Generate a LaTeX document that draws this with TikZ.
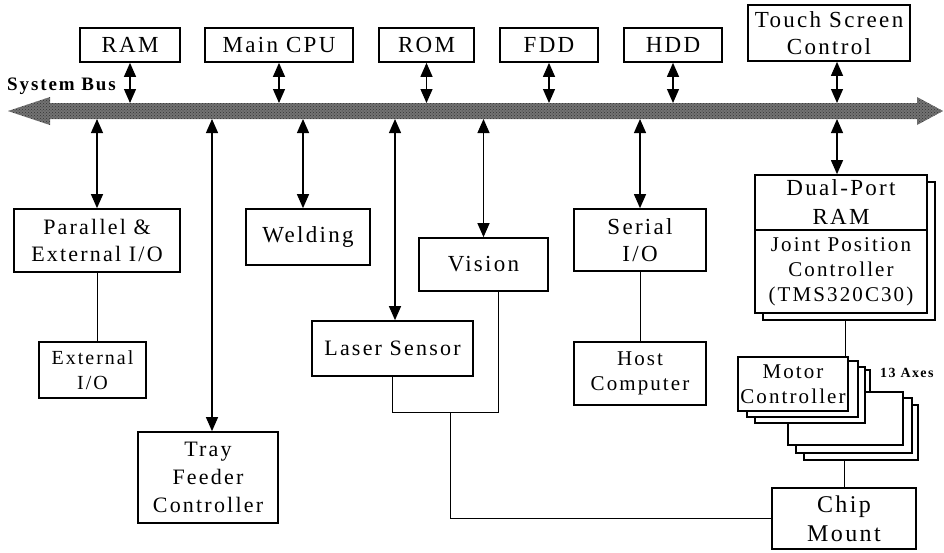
\documentclass[tikz,border=0pt]{standalone}
\usepackage{fontspec}
\setmainfont{Liberation Serif}[LetterSpace=10]
\usetikzlibrary{arrows.meta,patterns}
\begin{document}
\begin{tikzpicture}[x=1pt,y=-1pt,
 box/.style={draw, line width=1.7pt, fill=white, inner sep=0pt, align=center, font=\fontsize{23}{27}\selectfont},
 mid/.style={font=\fontsize{22}{27}\selectfont},
 sml/.style={font=\fontsize{21}{25}\selectfont},
 dbl/.style={line width=1.2pt, {Triangle[length=14pt,width=12pt]}-{Triangle[length=14pt,width=12pt]}},
 conn/.style={line width=1pt},
 lbl/.style={anchor=base west, inner sep=0pt},
]
\useasboundingbox (0,0) rectangle (944,552);

% system bus
\path[fill=black!55] (8,111) -- (50,97) -- (50,103) -- (917,103) -- (917,97) -- (943,111) -- (917,125) -- (917,119) -- (50,119) -- (50,125) -- cycle;
\path[pattern=crosshatch dots, pattern color=black!80] (8,111) -- (50,97) -- (50,103) -- (917,103) -- (917,97) -- (943,111) -- (917,125) -- (917,119) -- (50,119) -- (50,125) -- cycle;
\coordinate (bt) at (0,103);
\coordinate (bb) at (0,119);
\node[lbl, font=\fontsize{19}{22}\selectfont\bfseries] (sb) at (7,90) {System Bus};

% top row
\node[box, minimum width=100pt, minimum height=34pt] (ram) at (130,45) {RAM};
\node[box, minimum width=148pt, minimum height=34pt] (cpu) at (279,45) {Main CPU};
\node[box, minimum width=95pt, minimum height=34pt] (rom) at (426.5,45) {ROM};
\node[box, minimum width=98pt, minimum height=34pt] (fdd) at (549,45) {FDD};
\node[box, minimum width=98pt, minimum height=34pt] (hdd) at (673,45) {HDD};
\node[box, minimum width=162pt, minimum height=56pt] (touch) at (829,33) {Touch Screen\\Control};

% lower boxes
\node[box, mid, minimum width=166pt, minimum height=63pt] (par) at (97,240.5) {Parallel \&\\External I/O};
\node[box, font=\fontsize{20}{25}\selectfont, minimum width=107pt, minimum height=56pt] (extio) at (92.5,370) {External\\I/O};
\node[box, font=\fontsize{22}{28}\selectfont, minimum width=140pt, minimum height=91pt] (tray) at (208,477.5) {Tray\\Feeder\\Controller};
\node[box, minimum width=124pt, minimum height=56pt] (weld) at (308,237) {Welding};
\node[box, mid, minimum width=161pt, minimum height=55pt] (laser) at (392.5,348.5) {Laser Sensor};
\node[box, minimum width=129pt, minimum height=53pt] (vision) at (483.5,264.5) {Vision};
\node[box, minimum width=132pt, minimum height=62pt] (serial) at (640,240) {Serial\\I/O};
\node[box, sml, minimum width=132pt, minimum height=63pt] (host) at (640,373.5) {Host\\Computer};

% dual port / joint controller
\node[box, minimum width=172pt, minimum height=138pt] (jsh) at (849,251) {};
\node[box, font=\fontsize{23}{29}\selectfont, minimum width=172pt, minimum height=55pt] (dp) at (841,202.5) {Dual-Port\\RAM};
\node[box, sml, minimum width=172pt, minimum height=83pt] (jpc) at (841,271.5) {Joint Position\\Controller\\(TMS320C30)};

% motor controller stack
\node[box, minimum width=114pt, minimum height=55pt] (b3) at (861,432.5) {};
\node[box, minimum width=116pt, minimum height=55pt] (b2) at (854,425.5) {};
\node[box, minimum width=115pt, minimum height=53pt] (b1) at (845.5,418.5) {};
\node[box, minimum width=108pt, minimum height=22pt] (c3) at (816,381) {};
\node[box, minimum width=110pt, minimum height=56pt] (c2) at (810,395) {};
\node[box, minimum width=111pt, minimum height=56pt] (c1) at (802.5,389) {};
\node[box, sml, minimum width=110pt, minimum height=54pt] (motor) at (793,384) {Motor\\Controller};
\node[lbl, font=\fontsize{14}{16}\selectfont\bfseries] (ax) at (880,377) {13 Axes};

\node[box, font=\fontsize{24}{29}\selectfont, minimum width=144pt, minimum height=61pt] (chip) at (844,518.5) {Chip\\Mount};

% bus arrows (top)
\draw[dbl] (ram.south) -- (ram.south |- bt);
\draw[dbl] (cpu.south) -- (cpu.south |- bt);
\draw[dbl] (rom.south) -- (rom.south |- bt);
\draw[dbl] (fdd.south) -- (fdd.south |- bt);
\draw[dbl] (hdd.south) -- (hdd.south |- bt);
\draw[dbl] ([xshift=8pt]touch.south) -- ([xshift=8pt]touch.south |- bt);

% bus arrows (bottom)
\draw[dbl] (par.north |- bb) -- (par.north);
\draw[dbl] ([xshift=4pt]tray.north |- bb) -- ([xshift=4pt]tray.north);
\draw[dbl] ([xshift=-5pt]weld.north |- bb) -- ([xshift=-5pt]weld.north);
\draw[dbl] ([xshift=2.5pt]laser.north |- bb) -- ([xshift=2.5pt]laser.north);
\draw[dbl] (vision.north |- bb) -- (vision.north);
\draw[dbl] (serial.north |- bb) -- (serial.north);
\draw[dbl] ([xshift=-4pt]dp.north |- bb) -- ([xshift=-4pt]dp.north);

% plain connectors
\draw[conn] (par.south) -- (par.south |- extio.north);
\draw[conn] (serial.south) -- (host.north);
\coordinate (jn) at (450,412);
\draw[conn] (laser.south) -- (laser.south |- jn) -- ([xshift=14.5pt]vision.south |- jn) -- ([xshift=14.5pt]vision.south);
\draw[conn] (jn) |- (chip.west);
\draw[conn] ([xshift=-4pt]jsh.south) -- ([xshift=-4pt]jsh.south |- motor.north);
\draw[conn] (chip.north |- b3.south) -- (chip.north);
\end{tikzpicture}
\end{document}
